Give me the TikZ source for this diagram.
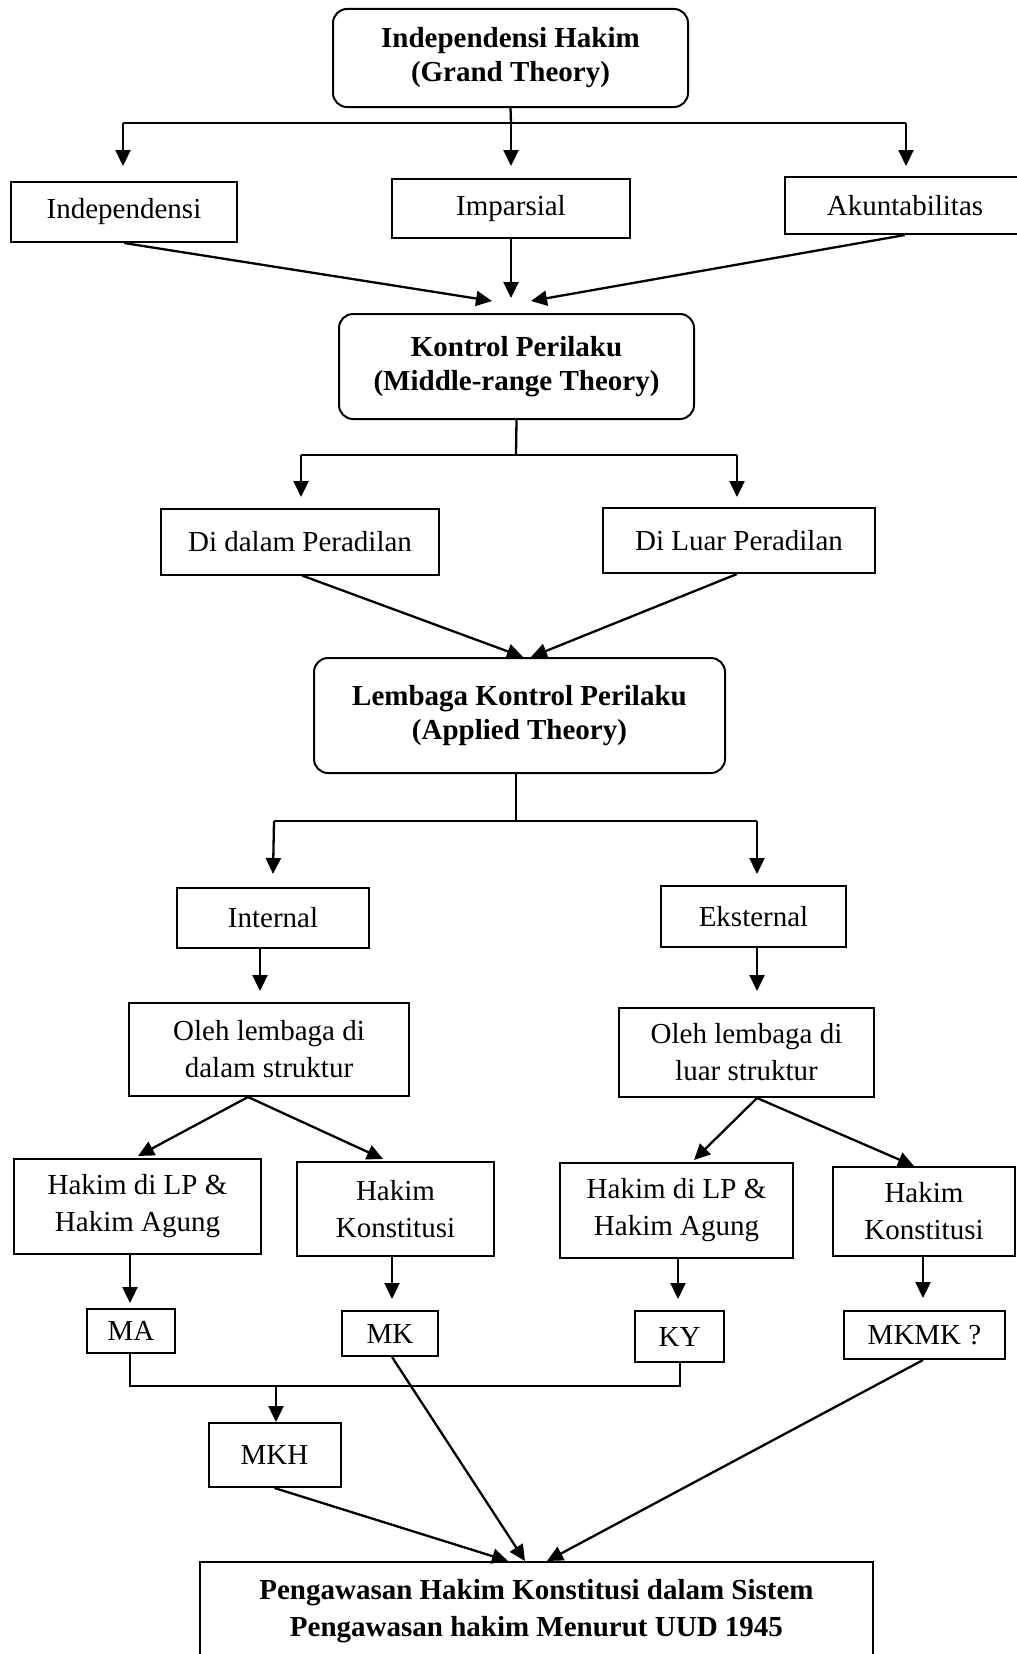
\documentclass[tikz,border=0pt]{standalone}
\usepackage{fontspec}
\setmainfont{Liberation Serif}
\usetikzlibrary{arrows.meta}
\begin{document}
\begin{tikzpicture}[x=1pt,y=-1pt,
  box/.style={draw, line width=2pt, rectangle, inner sep=0pt, align=center, font=\fontsize{29}{37}\selectfont},
  rbox/.style={box, rounded corners=14pt, font=\bfseries\fontsize{29}{34}\selectfont},
  bbox/.style={box, font=\bfseries\fontsize{29}{37}\selectfont},
  ln/.style={line width=2.3pt},
  arr/.style={ln, -{Triangle[length=16pt,width=15pt]}}]
\useasboundingbox (0,0) rectangle (1017,1654);
\clip (0,0) rectangle (1017,1654);

% ---------- nodes ----------
\node[rbox, minimum width=355pt, minimum height=98pt] (top) at (510.5,58) {Independensi Hakim\\(Grand Theory)};
\node[box, minimum width=226pt, minimum height=60pt] (indep) at (124,212) {Independensi};
\node[box, minimum width=238pt, minimum height=59pt] (impar) at (511,208.5) {Imparsial};
\node[box, minimum width=240pt, minimum height=57pt] (akun) at (905,205.5) {Akuntabilitas};
\node[rbox, minimum width=355pt, minimum height=105pt] (kontrol) at (516.5,366.5) {Kontrol Perilaku\\(Middle-range Theory)};
\node[box, minimum width=278pt, minimum height=66pt] (didalam) at (300,541.5) {Di dalam Peradilan};
\node[box, minimum width=272pt, minimum height=65pt] (diluar) at (739,540.5) {Di Luar Peradilan};
\node[rbox, minimum width=411pt, minimum height=115pt] (lembaga) at (519.5,715.5) {Lembaga Kontrol Perilaku\\(Applied Theory)};
\node[box, minimum width=192pt, minimum height=60pt] (internal) at (273,917.5) {Internal};
\node[box, minimum width=185pt, minimum height=61pt] (eksternal) at (753.5,916.5) {Eksternal};
\node[box, minimum width=280pt, minimum height=93pt] (olehD) at (269,1049.5) {Oleh lembaga di\\dalam struktur};
\node[box, minimum width=255pt, minimum height=89pt] (olehL) at (746.5,1052.5) {Oleh lembaga di\\luar struktur};
\node[box, minimum width=247pt, minimum height=95pt] (hlp1) at (137.5,1206.5) {Hakim di LP \&\\Hakim Agung};
\node[box, minimum width=197pt, minimum height=94pt] (hk1) at (395.5,1209) {Hakim\\Konstitusi};
\node[box, minimum width=233pt, minimum height=95pt] (hlp2) at (676.5,1210.5) {Hakim di LP \&\\Hakim Agung};
\node[box, minimum width=182pt, minimum height=89pt] (hk2) at (924,1211.5) {Hakim\\Konstitusi};
\node[box, minimum width=88pt, minimum height=44pt] (ma) at (131,1331) {MA};
\node[box, minimum width=96pt, minimum height=45pt] (mk) at (390,1333.5) {MK};
\node[box, minimum width=89pt, minimum height=51pt] (ky) at (679.5,1336.5) {KY};
\node[box, minimum width=161pt, minimum height=48pt] (mkmk) at (924.5,1335) {MKMK ?};
\node[box, minimum width=132pt, minimum height=64pt] (mkh) at (274.5,1455) {MKH};
\node[bbox, minimum width=673pt, minimum height=98pt] (final) at (536.5,1611) {Pengawasan Hakim Konstitusi dalam Sistem\\Pengawasan hakim Menurut UUD 1945};

% ---------- junction coordinates ----------
\coordinate (j1) at (511,123);
\coordinate (j1l) at (123,123);
\coordinate (j1r) at (906,123);
\coordinate (t1l) at (123,166);
\coordinate (t1m) at (511,166);
\coordinate (t1r) at (906,166);
\coordinate (k1) at (492,301);
\coordinate (k2) at (511,298);
\coordinate (k3) at (531,301);
\coordinate (j2) at (516,455);
\coordinate (j2l) at (301,455);
\coordinate (j2r) at (737,455);
\coordinate (t2l) at (301,497);
\coordinate (t2r) at (737,497);
\coordinate (j3) at (516,821);
\coordinate (j3l) at (274,821);
\coordinate (j3r) at (757,821);
\coordinate (t3l) at (273,874);
\coordinate (t3r) at (757,874);
\coordinate (mal) at (130,1386);
\coordinate (kyl) at (680,1386);
\coordinate (mkhj) at (276,1386);

% ---------- connectors ----------
\draw[ln] (top.south) -- (j1);
\draw[ln] (j1l) -- (j1r);
\draw[arr] (j1l) -- (t1l);
\draw[arr] (j1) -- (t1m);
\draw[arr] (j1r) -- (t1r);

\draw[arr] (indep.south) -- (k1);
\draw[arr] (impar.south) -- (k2);
\draw[arr] (akun.south) -- (k3);

\draw[ln] (kontrol.south) -- (j2);
\draw[ln] (j2l) -- (j2r);
\draw[arr] (j2l) -- (t2l);
\draw[arr] (j2r) -- (t2r);

\draw[arr] ([xshift=2pt]didalam.south) -- ([xshift=3.5pt]lembaga.north);
\draw[arr] ([xshift=-2pt]diluar.south) -- ([xshift=11.5pt]lembaga.north);

\draw[ln] (lembaga.south -| j3) -- (j3);
\draw[ln] (j3l) -- (j3r);
\draw[arr] (j3l) -- (t3l);
\draw[arr] (j3r) -- (t3r);

\draw[arr] (internal.south -| 260,0) -- ([yshift=11pt]olehD.north -| 260,0);
\draw[arr] (eksternal.south -| 757,0) -- ([yshift=16pt]olehL.north -| 757,0);

\draw[arr] ([xshift=-21pt]olehD.south) -- ([xshift=0.5pt,yshift=2pt]hlp1.north);
\draw[arr] ([xshift=-21pt]olehD.south) -- ([xshift=-12.5pt,yshift=2pt]hk1.north);
\draw[arr] ([xshift=10.5pt]olehL.south) -- ([xshift=17.5pt,yshift=2pt]hlp2.north);
\draw[arr] ([xshift=10.5pt]olehL.south) -- ([xshift=-10pt]hk2.north);

\draw[arr] ([xshift=-7.5pt]hlp1.south) -- ([xshift=-1pt,yshift=5pt]ma.north);
\draw[arr] ([xshift=-3.5pt]hk1.south) -- ([xshift=2pt,yshift=11pt]mk.north);
\draw[arr] ([xshift=1.5pt]hlp2.south) -- ([xshift=-1.5pt,yshift=11pt]ky.north);
\draw[arr] ([xshift=-1pt]hk2.south) -- ([xshift=-1.5pt,yshift=12pt]mkmk.north);

\draw[ln] (ma.south -| mal) -- (mal) -- (kyl) -- (ky.south -| kyl);
\draw[arr] (mkhj) -- (mkh.north -| mkhj);

\draw[arr] (mkh.south) -- ([xshift=-28.5pt]final.north);
\draw[arr] ([xshift=2pt]mk.south) -- ([xshift=-11.5pt]final.north);
\draw[arr] ([xshift=-1.5pt]mkmk.south) -- ([xshift=10.5pt]final.north);
\end{tikzpicture}
\end{document}
